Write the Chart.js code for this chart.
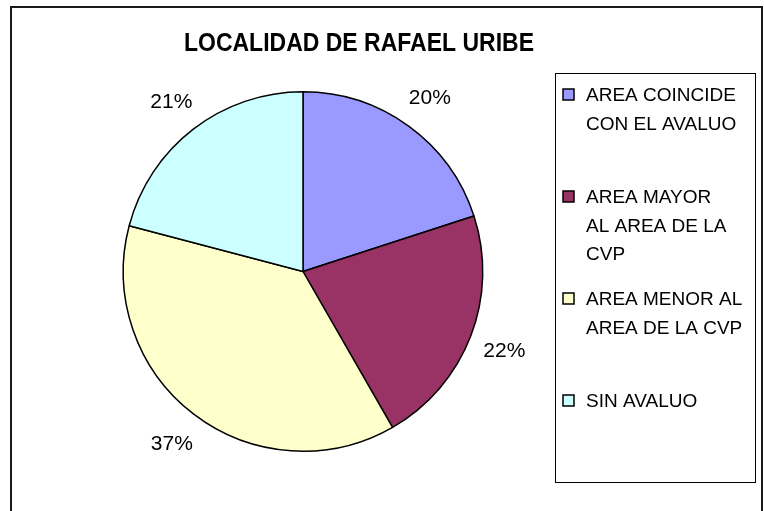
<!DOCTYPE html>
<html>
<head>
<meta charset="utf-8">
<script src="https://cdn.jsdelivr.net/npm/chart.js@4/dist/chart.umd.min.js"></script>
<style>
  html, body { margin: 0; padding: 0; background: #fff; }
  #wrap { position: relative; width: 764px; height: 511px; }
</style>
</head>
<body>
<div id="wrap"><canvas id="pie-chart"></canvas></div>
<script>
const chartTitle = 'LOCALIDAD DE RAFAEL URIBE';
const categories = [
  ['AREA COINCIDE', 'CON EL AVALUO'],
  ['AREA MAYOR', 'AL AREA DE LA', 'CVP'],
  ['AREA MENOR AL', 'AREA DE LA CVP'],
  ['SIN AVALUO']
];
const shares = [20.0, 21.7, 37.4, 20.9];
const sliceColors = ['#9999FF', '#993366', '#FFFFCC', '#CCFFFF'];

const FONT = '"Liberation Sans", Arial, sans-serif';

// frame, title and the boxed legend on the right
const decorPlugin = {
  id: 'decor',
  beforeDraw(chart) {
    const ctx = chart.ctx;
    ctx.save();
    ctx.fillStyle = '#fff';
    ctx.fillRect(0, 0, chart.width, chart.height);
    ctx.strokeStyle = '#1a1a1a';
    ctx.lineWidth = 2;
    ctx.strokeRect(11, 7, 751, 530);
    ctx.restore();
  },
  afterDraw(chart) {
    const ctx = chart.ctx;
    ctx.save();
    ctx.fillStyle = '#000';
    // title is a little taller than it is wide in the original
    ctx.save();
    ctx.translate(359, 51);
    ctx.scale(1, 1.12);
    ctx.font = 'bold 23px ' + FONT;
    ctx.textAlign = 'center';
    ctx.textBaseline = 'alphabetic';
    ctx.fillText(chartTitle, 0, 0);
    ctx.restore();

    // legend box
    ctx.strokeStyle = '#000';
    ctx.lineWidth = 1;
    ctx.strokeRect(555.5, 73.5, 200, 409);
    ctx.font = '19px ' + FONT;
    ctx.textAlign = 'left';
    const ds = chart.data.datasets[0];
    chart.data.labels.forEach((lines, i) => {
      const y0 = 94 + i * 102;
      ctx.fillStyle = ds.backgroundColor[i];
      ctx.fillRect(563, y0 - 5, 11, 11);
      ctx.strokeStyle = '#000';
      ctx.lineWidth = 1.5;
      ctx.strokeRect(563, y0 - 5, 11, 11);
      ctx.fillStyle = '#000';
      lines.forEach((t, j) => {
        ctx.fillText(t, 586, y0 + 7 + j * 28.5);
      });
    });
    ctx.restore();
  }
};

// percentage labels outside the slices
const pctPlugin = {
  id: 'pct',
  afterDatasetsDraw(chart) {
    const ctx = chart.ctx;
    const meta = chart.getDatasetMeta(0);
    const vals = chart.data.datasets[0].data;
    const total = vals.reduce((a, b) => a + b, 0);
    ctx.save();
    ctx.font = '21px ' + FONT;
    ctx.fillStyle = '#000';
    ctx.textAlign = 'center';
    ctx.textBaseline = 'alphabetic';
    meta.data.forEach((arc, i) => {
      const p = arc.getProps(['x', 'y', 'startAngle', 'endAngle', 'outerRadius'], true);
      const mid = (p.startAngle + p.endAngle) / 2;
      const r = p.outerRadius + 36;
      const x = p.x + Math.cos(mid) * r;
      const y = p.y + Math.sin(mid) * r;
      ctx.fillText(Math.round(vals[i] / total * 100) + '%', x, y + 7.5);
    });
    ctx.restore();
  }
};

new Chart(document.getElementById('pie-chart'), {
  type: 'pie',
  data: {
    labels: categories,
    datasets: [{
      data: shares,
      backgroundColor: sliceColors,
      borderColor: '#000',
      borderWidth: 1.5,
      hoverOffset: 0
    }]
  },
  options: {
    responsive: true,
    maintainAspectRatio: false,
    animation: false,
    layout: {
      padding: { left: 122, right: 280, top: 91, bottom: 59 }
    },
    plugins: {
      legend: { display: false },
      title: { display: false },
      tooltip: { enabled: true }
    }
  },
  plugins: [decorPlugin, pctPlugin]
});
</script>
</body>
</html>
